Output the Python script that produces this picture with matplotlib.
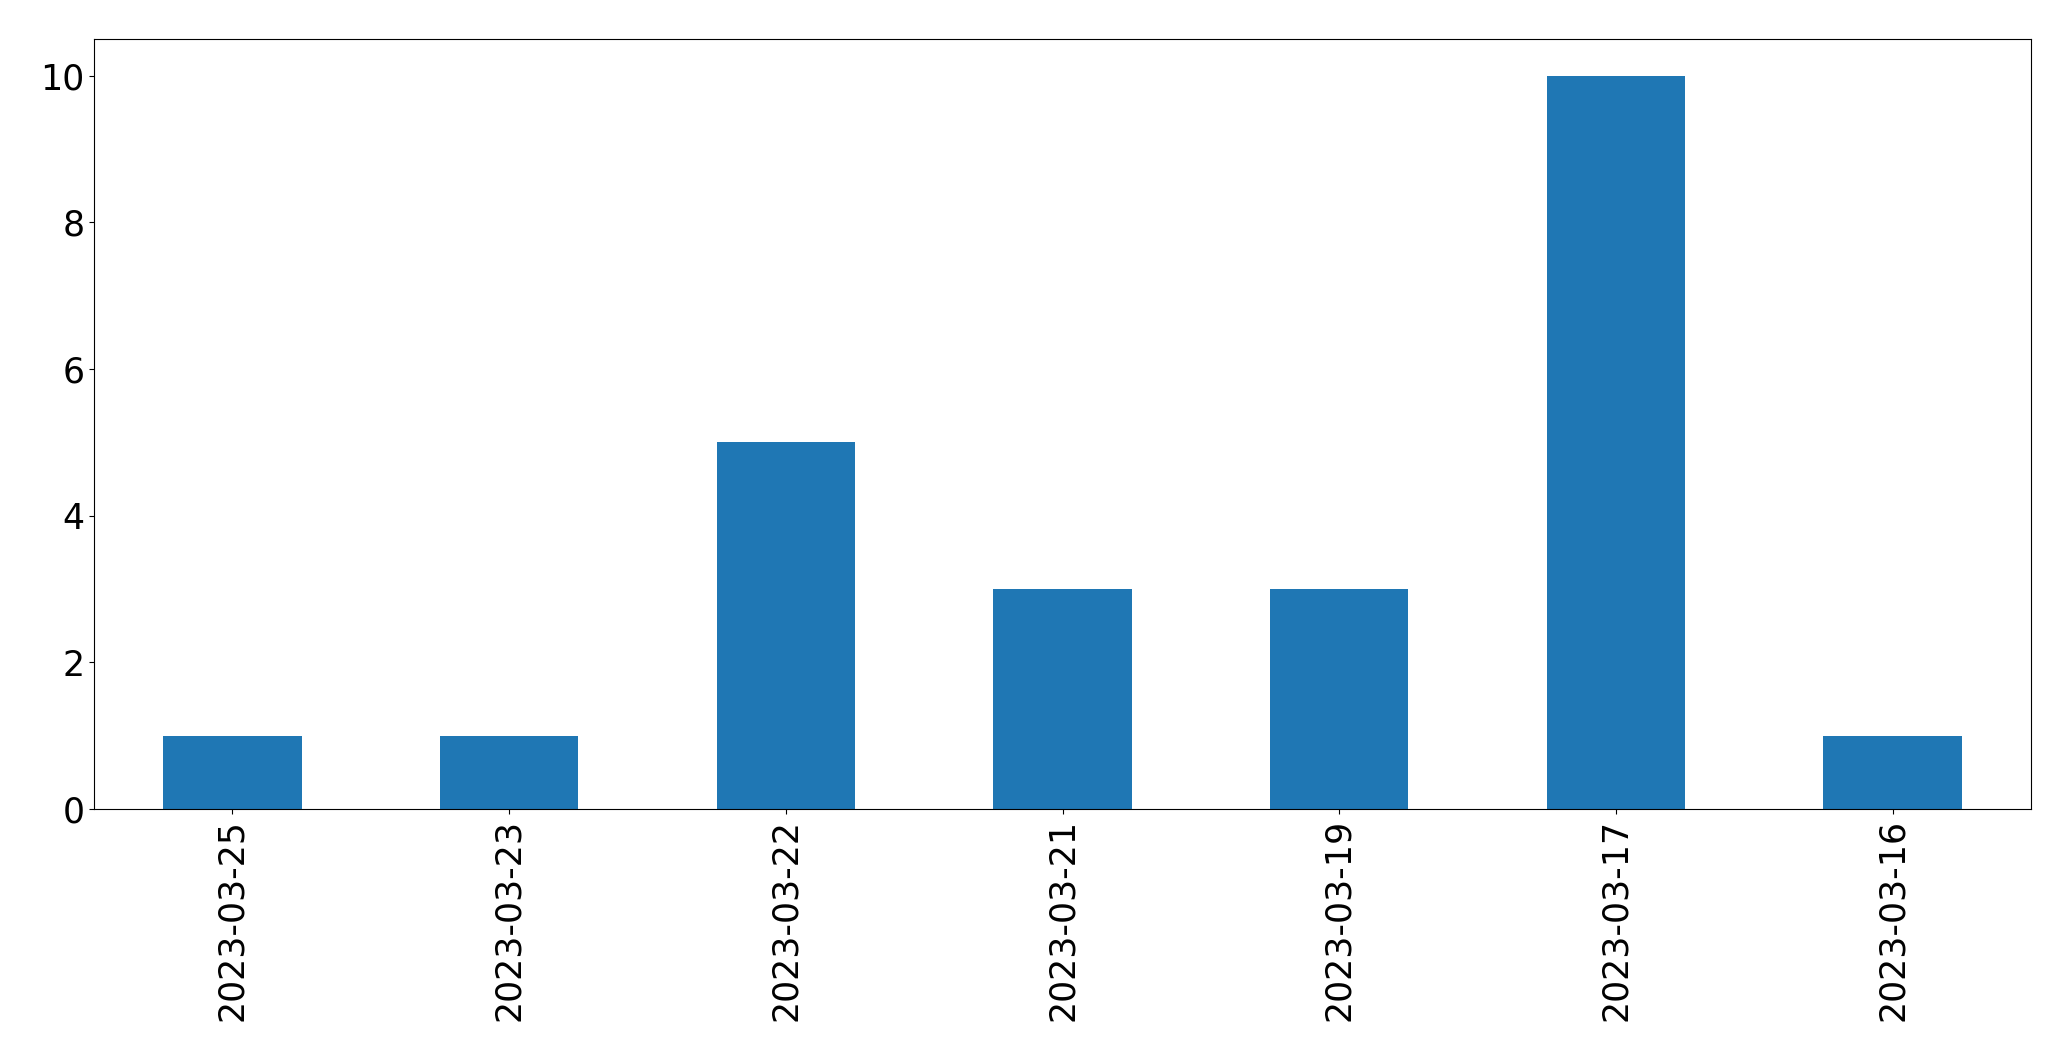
import matplotlib
matplotlib.use("Agg")
import matplotlib.pyplot as plt
import pandas as pd

# counts per day, in the order shown on the chart
dates = ["2023-03-25", "2023-03-23", "2023-03-22", "2023-03-21",
         "2023-03-19", "2023-03-17", "2023-03-16"]
counts = [1, 1, 5, 3, 3, 10, 1]

s = pd.Series(counts, index=dates)

fig = plt.figure(figsize=(20.71, 10.61), dpi=100)
ax = fig.add_axes([94 / 2071, 1 - 809 / 1061, (2031 - 94) / 2071, (809 - 39) / 1061])
s.plot(kind="bar", ax=ax, color="#1f77b4")
ax.tick_params(axis="both", labelsize=25)

fig.savefig("out.png", dpi=100)
